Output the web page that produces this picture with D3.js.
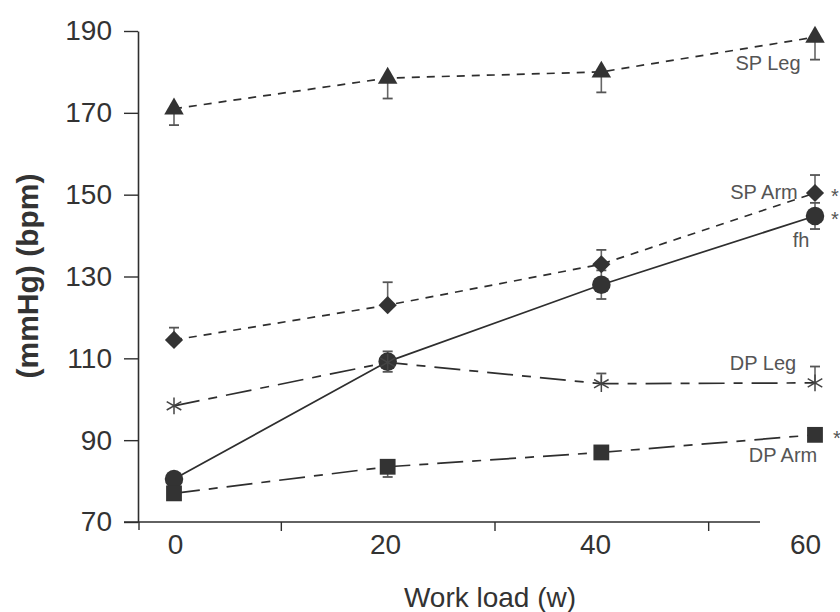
<!DOCTYPE html>
<html>
<head>
<meta charset="utf-8">
<script src="https://cdn.jsdelivr.net/npm/d3@7"></script>
<style>
  body { margin: 0; background: #fff; }
  text { font-family: "Liberation Sans", Arial, sans-serif; }
</style>
</head>
<body>
<script>
// valores
const loads = [0, 20, 40, 60];
const spLeg = [171, 178.5, 180, 188.5];
const spLegErr = [4, 5, 5, 5.5];
const spArm = [114.5, 123, 133, 150.4];
const spArmErr = [3, 5.6, 3.5, 4.4];
const fh = [80.5, 109.2, 128, 144.8];
const fhErr = [0, 2.5, 3.5, 3.2];
const dpLeg = [98.4, 109, 103.8, 104];
const dpLegErr = [0, 0, 2.5, 4];
const dpArm = [77, 83.5, 87, 91.3];
const dpArmErr = [0, 2.5, 0, 0];
const yTicks = [70, 90, 110, 130, 150, 170, 190];
const xLabels = [0, 20, 40, 60];
const xMinor = [10, 30, 50];

const WIDTH = 840, HEIGHT = 612;
const ink = '#2e2e2e';

const svg = d3.select('body').append('svg')
    .attr('width', WIDTH)
    .attr('height', HEIGHT);

const x = d3.scaleLinear().domain([0, 60]).range([174, 815]);
const y = d3.scaleLinear().domain([70, 190]).range([522, 31]);
// las etiquetas del eje x estan algo corridas a la izquierda en el original
const xLab = d3.scaleLinear().domain([0, 60]).range([175, 805]);

// eje y
const yAxis = svg.append('g')
    .attr('transform', 'translate(138,0)')
    .call(d3.axisLeft(y).tickValues(yTicks).tickSize(14).tickPadding(12).tickSizeOuter(0));
yAxis.select('.domain').attr('stroke', ink).attr('stroke-width', 1.6);
yAxis.selectAll('.tick line').attr('stroke', ink).attr('stroke-width', 1.4);
yAxis.selectAll('.tick text').attr('font-size', 28).attr('fill', '#333');

// eje x: linea, marcas menores y etiquetas
svg.append('line')
    .attr('x1', 124).attr('x2', 760)
    .attr('y1', 522).attr('y2', 522)
    .attr('stroke', ink).attr('stroke-width', 1.6);

svg.append('line')
    .attr('x1', 139).attr('x2', 139)
    .attr('y1', 522).attr('y2', 530)
    .attr('stroke', ink).attr('stroke-width', 1.4);

const xMinorAxis = svg.append('g')
    .attr('transform', 'translate(0,522)')
    .call(d3.axisBottom(x).tickValues(xMinor).tickSize(9).tickFormat(''));
xMinorAxis.select('.domain').remove();
xMinorAxis.selectAll('.tick line').attr('stroke', ink).attr('stroke-width', 1.4);

const xLabAxis = svg.append('g')
    .attr('transform', 'translate(0,522)')
    .call(d3.axisBottom(xLab).tickValues(xLabels).tickSize(0).tickPadding(12));
xLabAxis.select('.domain').remove();
xLabAxis.selectAll('.tick text').attr('font-size', 28).attr('fill', '#333');

// titulos de ejes
svg.append('text')
    .attr('x', 490).attr('y', 607)
    .attr('text-anchor', 'middle')
    .attr('font-size', 28)
    .attr('fill', '#333')
    .text('Work load (w)');

svg.append('text')
    .attr('transform', 'translate(38,276) rotate(-90)')
    .attr('text-anchor', 'middle')
    .attr('font-size', 30)
    .attr('font-weight', 'bold')
    .attr('fill', '#333')
    .text('(mmHg) (bpm)');

const series = [
  { vals: spLeg, err: spLegErr, dir: -1, dash: '8,7', shape: 'tri' },
  { vals: spArm, err: spArmErr, dir: 1, dash: '8,7', shape: 'dia' },
  { vals: fh, err: fhErr, dir: 0, dash: null, shape: 'cir' },
  { vals: dpLeg, err: dpLegErr, dir: 1, dash: '26,9,9,9', shape: 'ast' },
  { vals: dpArm, err: dpArmErr, dir: -1, dash: '26,9,9,9', shape: 'sq' }
];

const line = d3.line().x((d, i) => x(loads[i])).y(d => y(d));

series.forEach(s => {
  svg.append('path')
      .datum(s.vals)
      .attr('d', line)
      .attr('fill', 'none')
      .attr('stroke', ink)
      .attr('stroke-width', 1.7)
      .attr('stroke-dasharray', s.dash);
});

// barras de error
series.forEach(s => {
  s.vals.forEach((v, i) => {
    if (!s.err[i]) return;
    const cx = x(loads[i]);
    let ends;
    if (s.dir === 0) ends = [v - s.err[i], v + s.err[i]];
    else if (s.dir > 0) ends = [v + s.err[i]];
    else ends = [v - s.err[i]];
    ends.forEach(e => {
      svg.append('line')
          .attr('x1', cx).attr('x2', cx)
          .attr('y1', y(v)).attr('y2', y(e))
          .attr('stroke', '#666').attr('stroke-width', 1.6);
      svg.append('line')
          .attr('x1', cx - 5).attr('x2', cx + 5)
          .attr('y1', y(e)).attr('y2', y(e))
          .attr('stroke', '#555').attr('stroke-width', 1.8);
    });
  });
});

// marcadores
const sym = {
  tri: d3.symbol().type(d3.symbolTriangle).size(165),
  dia: d3.symbol().type(d3.symbolSquare).size(165),
  cir: d3.symbol().type(d3.symbolCircle).size(270),
  sq: d3.symbol().type(d3.symbolSquare).size(250),
  ast: d3.symbol().type(d3.symbolAsterisk).size(200)
};

series.forEach(s => {
  s.vals.forEach((v, i) => {
    const rot = s.shape === 'dia' ? 45 : 0;
    const g = svg.append('path')
        .attr('transform', `translate(${x(loads[i])},${y(v)}) rotate(${rot})`)
        .attr('d', sym[s.shape]());
    if (s.shape === 'ast') {
      g.attr('fill', 'none').attr('stroke', '#444').attr('stroke-width', 1.5);
    } else {
      g.attr('fill', '#333');
    }
  });
});

// etiquetas de series
const labels = [
  { t: 'SP Leg', x: 768, y: 70 },
  { t: 'SP Arm', x: 764, y: 199 },
  { t: 'fh', x: 801, y: 247 },
  { t: 'DP Leg', x: 763, y: 370 },
  { t: 'DP Arm', x: 783, y: 462 }
];
svg.selectAll('.lab')
    .data(labels)
    .join('text')
    .attr('x', d => d.x).attr('y', d => d.y)
    .attr('text-anchor', 'middle')
    .attr('font-size', 20)
    .attr('fill', '#555')
    .text(d => d.t);

// asteriscos de significancia
[[835, spArm[3]], [835, fh[3]], [837, dpArm[3]]].forEach(d => {
  svg.append('text')
      .attr('x', d[0]).attr('y', y(d[1]) + 10)
      .attr('text-anchor', 'middle')
      .attr('font-size', 20)
      .attr('fill', '#555')
      .text('*');
});
</script>
</body>
</html>
